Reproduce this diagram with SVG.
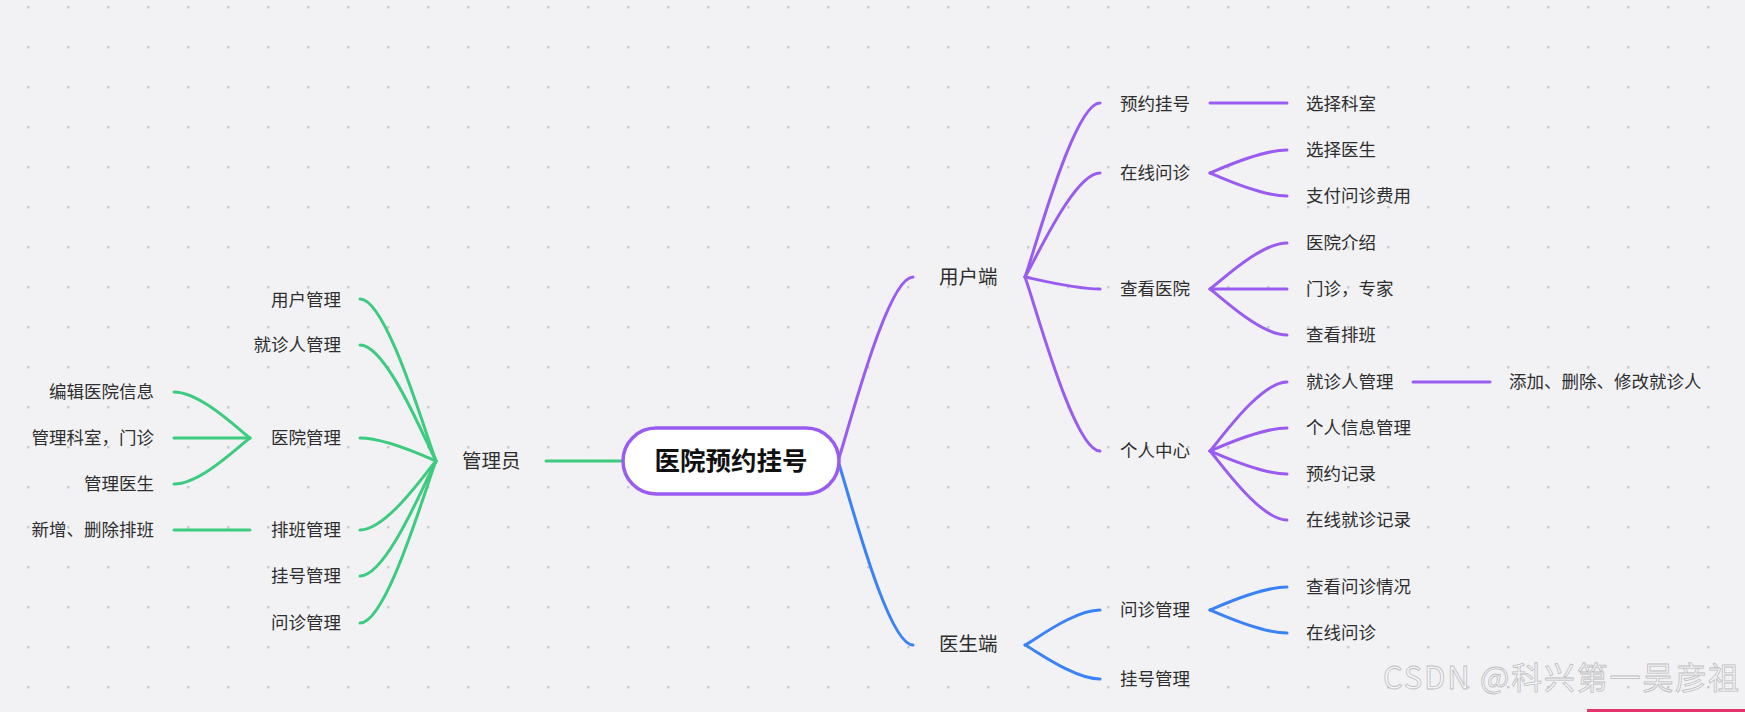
<svg xmlns="http://www.w3.org/2000/svg" width="1745" height="712" viewBox="0 0 1745 712">
<defs>
<pattern id="dots" x="8" y="-13" width="40" height="40" patternUnits="userSpaceOnUse">
<rect x="19" y="19" width="2.5" height="2.5" fill="#c9c9ce"/>
</pattern>
<style>
.t{font-family:"Noto Sans CJK SC","Noto Sans",sans-serif;fill:#2e2e2e;font-size:17.5px}
.m{font-size:19.5px}
.end{text-anchor:end}
.c{fill:none;stroke-width:3;stroke-linecap:round}
.p{stroke:#9a5cf0}
.b{stroke:#3b82f6}
.g{stroke:#3dcb7f}
</style>
</defs>
<rect width="1745" height="712" fill="#f2f2f5"/>
<rect width="1745" height="712" fill="url(#dots)"/>

<g id="connectors">
<path class="c p" d="M838,461 C848,432 887,277 913,277"/>
<path class="c b" d="M838,461 C848,490 887,645 913,645"/>
<path class="c p" d="M1025,277 C1035,250 1074,103 1100,103"/>
<path class="c p" d="M1025,277 C1035,261 1074,173 1100,173"/>
<path class="c p" d="M1025,277 C1035,279 1074,289 1100,289"/>
<path class="c p" d="M1025,277 C1035,304 1074,451 1100,451"/>
<path class="c p" d="M1210,103 L1287,103"/>
<path class="c p" d="M1210,173 C1220,169 1260,150 1287,150"/>
<path class="c p" d="M1210,173 C1220,177 1260,196 1287,196"/>
<path class="c p" d="M1210,289 C1220,282 1260,243 1287,243"/>
<path class="c p" d="M1210,289 L1287,289"/>
<path class="c p" d="M1210,289 C1220,296 1260,335 1287,335"/>
<path class="c p" d="M1210,451 C1220,440 1260,382 1287,382"/>
<path class="c p" d="M1210,451 C1220,447 1260,428 1287,428"/>
<path class="c p" d="M1210,451 C1220,455 1260,474 1287,474"/>
<path class="c p" d="M1210,451 C1220,462 1260,520 1287,520"/>
<path class="c p" d="M1413,382 L1490,382"/>
<path class="c b" d="M1025,645 C1035,640 1074,610 1100,610"/>
<path class="c b" d="M1025,645 C1035,650 1074,679 1100,679"/>
<path class="c b" d="M1210,610 C1220,606 1260,587 1287,587"/>
<path class="c b" d="M1210,610 C1220,614 1260,633 1287,633"/>
<path class="c g" d="M546,461 L623,461"/>
<path class="c g" d="M436,461 C426,436 387,299 360,299"/>
<path class="c g" d="M436,461 C426,443 387,345 360,345"/>
<path class="c g" d="M436,461 C426,457 387,438 360,438"/>
<path class="c g" d="M436,461 C426,472 387,530 360,530"/>
<path class="c g" d="M436,461 C426,479 387,576 360,576"/>
<path class="c g" d="M436,461 C426,486 387,623 360,623"/>
<path class="c g" d="M250,438 C240,431 201,392 174,392"/>
<path class="c g" d="M250,438 L174,438"/>
<path class="c g" d="M250,438 C240,445 201,484 174,484"/>
<path class="c g" d="M174,530 L250,530"/>
</g>

<g id="root">
<rect x="623" y="428" width="216" height="66" rx="33" fill="#ffffff" stroke="#9a5cf0" stroke-width="3.5"/>
<text class="t" x="731" y="470" text-anchor="middle" style="font-size:25.5px;font-weight:bold;fill:#111">医院预约挂号</text>
</g>

<g id="n-admin"><text class="t m" x="462" y="468">管理员</text></g>
<g id="n-user"><text class="t m" x="939" y="284">用户端</text></g>
<g id="n-doctor"><text class="t m" x="939" y="651">医生端</text></g>

<g id="n-a1"><text class="t end" x="341" y="306">用户管理</text></g>
<g id="n-a2"><text class="t end" x="341" y="351">就诊人管理</text></g>
<g id="n-a3"><text class="t end" x="341" y="444">医院管理</text></g>
<g id="n-a4"><text class="t end" x="341" y="536">排班管理</text></g>
<g id="n-a5"><text class="t end" x="341" y="582">挂号管理</text></g>
<g id="n-a6"><text class="t end" x="341" y="629">问诊管理</text></g>
<g id="n-a31"><text class="t end" x="154" y="398">编辑医院信息</text></g>
<g id="n-a32"><text class="t end" x="154" y="444">管理科室，门诊</text></g>
<g id="n-a33"><text class="t end" x="154" y="490">管理医生</text></g>
<g id="n-a41"><text class="t end" x="154" y="536">新增、删除排班</text></g>

<g id="n-u1"><text class="t" x="1120" y="110">预约挂号</text></g>
<g id="n-u2"><text class="t" x="1120" y="179">在线问诊</text></g>
<g id="n-u3"><text class="t" x="1120" y="295">查看医院</text></g>
<g id="n-u4"><text class="t" x="1120" y="457">个人中心</text></g>
<g id="n-u11"><text class="t" x="1306" y="110">选择科室</text></g>
<g id="n-u21"><text class="t" x="1306" y="156">选择医生</text></g>
<g id="n-u22"><text class="t" x="1306" y="202">支付问诊费用</text></g>
<g id="n-u31"><text class="t" x="1306" y="249">医院介绍</text></g>
<g id="n-u32"><text class="t" x="1306" y="295">门诊，专家</text></g>
<g id="n-u33"><text class="t" x="1306" y="341">查看排班</text></g>
<g id="n-u41"><text class="t" x="1306" y="388">就诊人管理</text></g>
<g id="n-u42"><text class="t" x="1306" y="434">个人信息管理</text></g>
<g id="n-u43"><text class="t" x="1306" y="480">预约记录</text></g>
<g id="n-u44"><text class="t" x="1306" y="526">在线就诊记录</text></g>
<g id="n-u411"><text class="t" x="1509" y="388">添加、删除、修改就诊人</text></g>

<g id="n-d1"><text class="t" x="1120" y="616">问诊管理</text></g>
<g id="n-d2"><text class="t" x="1120" y="685">挂号管理</text></g>
<g id="n-d11"><text class="t" x="1306" y="593">查看问诊情况</text></g>
<g id="n-d12"><text class="t" x="1306" y="639">在线问诊</text></g>

<g id="watermark">
<text x="1383" y="689" textLength="356" lengthAdjust="spacing" style="font-family:'Noto Sans CJK SC','Noto Sans',sans-serif;font-size:31px;fill:#f6f6f7;stroke:#bdbdc0;stroke-width:0.8">CSDN @科兴第一吴彦祖</text>
</g>
<rect x="1587" y="709" width="158" height="3" fill="#e2356c"/>
</svg>
